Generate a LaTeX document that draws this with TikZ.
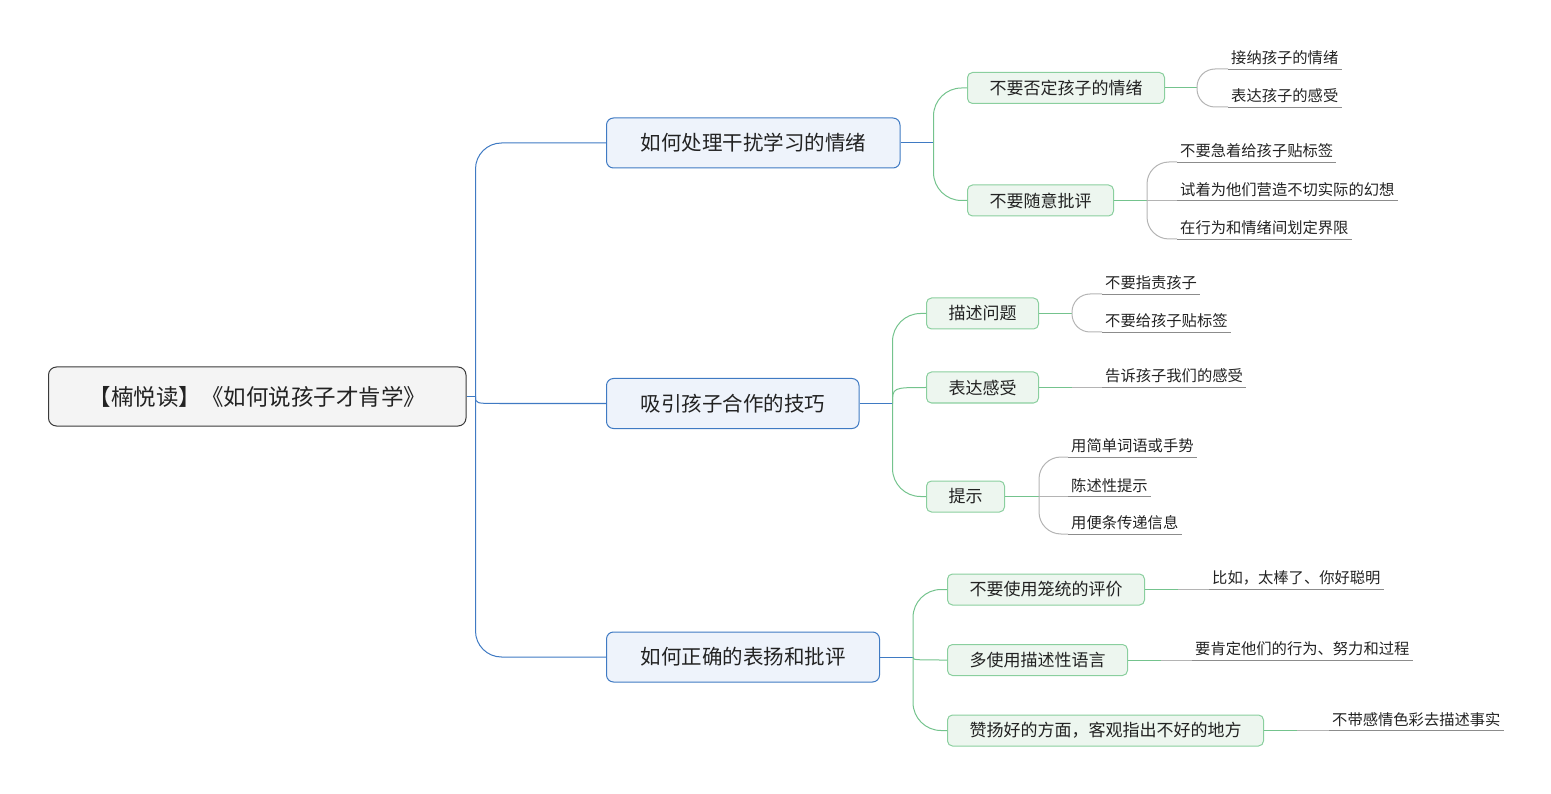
\documentclass[tikz,border=0pt]{standalone}
\usepackage{fontspec}
\setmainfont{Noto Sans CJK SC}
\definecolor{rootfill}{HTML}{F4F4F4}
\definecolor{rootedge}{HTML}{3A3A3A}
\definecolor{topicfill}{HTML}{EEF3FB}
\definecolor{topicedge}{HTML}{3F7AC3}
\definecolor{subfill}{HTML}{EDF6EF}
\definecolor{subedge}{HTML}{8ACF9E}
\definecolor{subline}{HTML}{74C38D}
\definecolor{leafline}{HTML}{B4B4B4}
\definecolor{leafrule}{HTML}{8C8C8C}
\definecolor{textdark}{HTML}{222222}

\begin{document}
\begin{tikzpicture}[x=1pt, y=-1pt,
    rootbox/.style={draw=rootedge, fill=rootfill, line width=1pt, rounded corners=8pt, anchor=west,
        inner xsep=40pt, minimum height=59pt, text=textdark, font=\fontsize{22.5}{26}\selectfont},
    topicbox/.style={draw=topicedge, fill=topicfill, line width=1pt, rounded corners=7pt, anchor=west,
        inner xsep=34pt, minimum height=50pt, text=textdark, font=\fontsize{20.5}{24}\selectfont},
    subbox/.style={draw=subedge, fill=subfill, line width=1pt, rounded corners=5pt, anchor=west,
        inner xsep=22pt, minimum height=31pt, text=textdark, font=\fontsize{17}{20}\selectfont},
    leaf/.style={anchor=south west, inner xsep=3pt, inner ysep=4pt, text=textdark,
        font=\fontsize{15.3}{18}\selectfont},
    blueline/.style={draw=topicedge, line width=1pt},
    greenline/.style={draw=subline, line width=1pt},
    grayline/.style={draw=leafline, line width=1pt},
    rule/.style={draw=leafrule, line width=0.8pt}]

    \useasboundingbox (0, 0) rectangle (1551, 794);

    % draw root and main topics
    \node[rootbox] (root) at (48, 396.5) {【楠悦读】《如何说孩子才肯学》};
    \node[topicbox] (b1) at (606, 143) {如何处理干扰学习的情绪};
    \node[topicbox] (b2) at (606, 403.5) {吸引孩子合作的技巧};
    \node[topicbox] (b3) at (606, 657) {如何正确的表扬和批评};

    % draw subtopics
    \node[subbox] (b1a) at (967, 88) {不要否定孩子的情绪};
    \node[subbox] (b1b) at (967, 200.5) {不要随意批评};
    \node[subbox] (b2a) at (926, 313.5) {描述问题};
    \node[subbox] (b2b) at (926, 387.5) {表达感受};
    \node[subbox] (b2c) at (926, 496.5) {提示};
    \node[subbox] (b3a) at (947, 589.5) {不要使用笼统的评价};
    \node[subbox] (b3b) at (947, 660) {多使用描述性语言};
    \node[subbox] (b3c) at (947, 730.5) {赞扬好的方面，客观指出不好的地方};

    % draw leaves
    \node[leaf] (b1a1) at (1228, 69) {接纳孩子的情绪};
    \node[leaf] (b1a2) at (1228, 107) {表达孩子的感受};
    \node[leaf] (b1b1) at (1177, 162) {不要急着给孩子贴标签};
    \node[leaf] (b1b2) at (1177, 200.5) {试着为他们营造不切实际的幻想};
    \node[leaf] (b1b3) at (1177, 239) {在行为和情绪间划定界限};
    \node[leaf] (b2a1) at (1102, 294) {不要指责孩子};
    \node[leaf] (b2a2) at (1102, 332) {不要给孩子贴标签};
    \node[leaf] (b2b1) at (1102, 387.5) {告诉孩子我们的感受};
    \node[leaf] (b2c1) at (1068, 457) {用简单词语或手势};
    \node[leaf] (b2c2) at (1068, 496.5) {陈述性提示};
    \node[leaf] (b2c3) at (1068, 534) {用便条传递信息};
    \node[leaf] (b3a1) at (1209, 589.5) {比如，太棒了、你好聪明};
    \node[leaf] (b3b1) at (1192, 660) {要肯定他们的行为、努力和过程};
    \node[leaf] (b3c1) at (1329, 730.5) {不带感情色彩去描述事实};

    % draw root branches
    \draw[blueline] (root.east) -- ++(9, 0) coordinate (f0);
    \draw[blueline, rounded corners=26pt] (f0) |- (b1.west);
    \draw[blueline, rounded corners=26pt] (f0) |- (b3.west);
    \draw[blueline] (f0) .. controls (f0 |- b2.west) .. ++(24, 7) coordinate (f0b) -- (b2.west);

    % draw topic branches
    \draw[blueline] (b1.east) -- ++(33, 0) coordinate (f1);
    \draw[greenline, rounded corners=28pt] (f1) |- (b1a.west);
    \draw[greenline, rounded corners=28pt] (f1) |- (b1b.west);

    \draw[blueline] (b2.east) -- ++(33, 0) coordinate (f2);
    \draw[greenline, rounded corners=28pt] (f2) |- (b2a.west);
    \draw[greenline] (f2) .. controls (f2 |- b2b.west) .. (b2b.west);
    \draw[greenline, rounded corners=28pt] (f2) |- (b2c.west);

    \draw[blueline] (b3.east) -- ++(33, 0) coordinate (f3);
    \draw[greenline, rounded corners=28pt] (f3) |- (b3a.west);
    \draw[greenline] (f3) .. controls (f3 |- b3b.west) .. (b3b.west);
    \draw[greenline, rounded corners=28pt] (f3) |- (b3c.west);

    % draw subtopic branches
    \draw[greenline] (b1a.east) -- ++(32, 0) coordinate (f1a);
    \draw[grayline, rounded corners=18pt] (f1a) |- (b1a1.south west);
    \draw[grayline, rounded corners=18pt] (f1a) |- (b1a2.south west);

    \draw[greenline] (b1b.east) -- ++(33, 0) coordinate (f1b);
    \draw[grayline, rounded corners=22pt] (f1b) |- (b1b1.south west);
    \draw[grayline] (f1b) -- (b1b2.south west);
    \draw[grayline, rounded corners=22pt] (f1b) |- (b1b3.south west);

    \draw[greenline] (b2a.east) -- ++(33, 0) coordinate (f2a);
    \draw[grayline, rounded corners=18pt] (f2a) |- (b2a1.south west);
    \draw[grayline, rounded corners=18pt] (f2a) |- (b2a2.south west);

    \draw[greenline] (b2b.east) -- ++(33, 0) coordinate (f2b);
    \draw[grayline] (f2b) -- (b2b1.south west);

    \draw[greenline] (b2c.east) -- ++(34, 0) coordinate (f2c);
    \draw[grayline, rounded corners=22pt] (f2c) |- (b2c1.south west);
    \draw[grayline] (f2c) -- (b2c2.south west);
    \draw[grayline, rounded corners=22pt] (f2c) |- (b2c3.south west);

    \draw[greenline] (b3a.east) -- ++(33, 0) coordinate (f3a);
    \draw[grayline] (f3a) -- (b3a1.south west);
    \draw[greenline] (b3b.east) -- ++(33, 0) coordinate (f3b);
    \draw[grayline] (f3b) -- (b3b1.south west);
    \draw[greenline] (b3c.east) -- ++(33, 0) coordinate (f3c);
    \draw[grayline] (f3c) -- (b3c1.south west);

    % draw leaf rules
    \foreach \leafname in {b1a1, b1a2, b1b1, b1b2, b1b3, b2a1, b2a2, b2b1, b2c1, b2c2, b2c3, b3a1, b3b1, b3c1}
        \draw[rule] (\leafname.south west) -- (\leafname.south east);

\end{tikzpicture}
\end{document}
